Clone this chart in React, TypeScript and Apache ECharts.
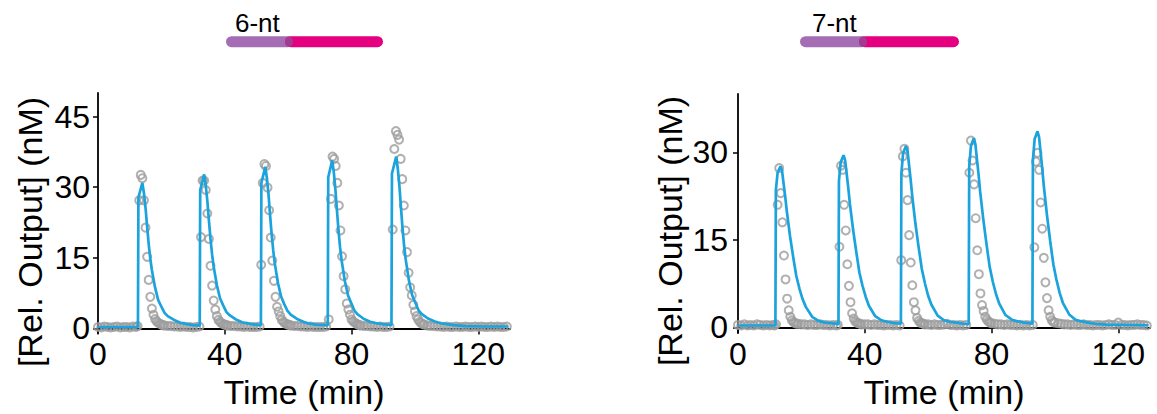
import React, { useEffect, useRef } from "react";
import * as echarts from "echarts";

// ---------- data ----------
const xTicks = [0, 40, 80, 120];
const sixNtYTicks = [0, 15, 30, 45];
const sevenNtYTicks = [0, 15, 30];

// 6-nt measured output (time min, nM)
const sixNtMeasured: [number, number][] = [
  [0,0.3],[1,0.2],[2,0.4],[3,0.3],[4,0.2],[5,0.3],[6,0.4],[7,0.2],[8,0.3],[9,0.3],[10,0.2],[11,0.4],[12,0.3],[12.5,0.5],
  [13,27.2],[13.5,32.6],[14,31.9],[14.5,27.2],[15,21.4],[15.5,15.2],[16,10.3],[16.5,6.7],[17,4.2],[17.5,2.9],[18,2.0],[18.5,1.5],[19,1.2],[19.5,1.0],[20,0.8],[20.5,0.7],[21,0.6],[22,0.5],[23,0.5],[24,0.4],[25,0.4],[26,0.3],[27,0.4],[28,0.3],[29,0.3],[30,0.2],[31,0.3],[32,0.4],
  [32.5,19.4],[33,31.4],[33.5,31.4],[34,29.4],[34.5,24.4],[35,19.0],[35.5,13.3],[36,9.1],[36.5,5.9],[37,4.0],[37.5,2.6],[38,1.8],[38.5,1.4],[39,1.1],[39.5,0.9],[40,0.8],[40.5,0.7],[41,0.6],[42,0.5],[43,0.5],[44,0.4],[45,0.4],[46,0.3],[47,0.4],[48,0.3],[49,0.3],[50,0.3],[51,0.4],
  [51.5,13.5],[52,30.9],[52.5,34.9],[53,34.5],[53.5,29.9],[54,25.1],[54.5,19.3],[55,14.4],[55.5,10.1],[56,6.7],[56.5,4.6],[57,3.6],[57.5,2.6],[58,1.8],[58.5,1.4],[59,1.1],[59.5,0.9],[60,0.8],[60.5,0.7],[61,0.6],[62,0.5],[63,0.5],[64,0.4],[65,0.4],[66,0.3],[67,0.4],[68,0.3],[69,0.3],[70,0.3],[71,0.3],[72,0.4],[72.8,1.9],
  [73.5,27.5],[74,36.5],[74.5,36.0],[75,34.5],[75.5,30.9],[76,26.1],[76.5,20.8],[77,15.3],[77.5,11.1],[78,8.3],[78.5,5.3],[79,4.0],[79.5,2.9],[80,1.9],[80.5,1.5],[81,1.2],[81.5,1.0],[82,0.8],[82.5,0.7],[83,0.6],[84,0.5],[85,0.5],[86,0.4],[87,0.4],[88,0.3],[89,0.4],[90,0.3],[91,0.3],[92,0.4],
  [93,21.0],[93.5,38.1],[94,41.9],[94.5,41.1],[95,40.1],[95.5,36.0],[96,31.7],[96.5,26.1],[97,20.8],[97.5,16.2],[98,11.8],[98.5,8.7],[99,7.0],[99.5,5.0],[100,3.6],[100.5,2.6],[101,1.9],[101.5,1.4],[102,1.1],[102.5,0.9],[103,0.8],[104,0.6],[105,0.5],[106,0.5],[107,0.4],[108,0.4],[109,0.3],[110,0.4],[111,0.3],[112,0.3],[113,0.4],[114,0.3],[115,0.3],[116,0.4],[117,0.3],[118,0.3],[119,0.4],[120,0.3],[121,0.4],[122,0.3],[123,0.3],[124,0.4],[125,0.3],[126,0.4],[127,0.3],[128,0.3],[129,0.4]
];

// 6-nt model output
const sixNtModel: [number, number][] = [
  [0,0.3],[12.6,0.3],
  [12.75,27.8],[14.0,30.9],[14.5,28.7],[15.0,25.6],[15.5,21.6],[16.0,17.9],[16.5,14.8],[17.0,12.4],[18.0,8.7],[19.0,6.0],[20.0,4.6],[21.0,3.3],[22.0,2.6],[24.0,1.8],[26.0,1.2],[28.0,0.9],[30.0,0.7],[32.1,0.6],
  [32.25,29.4],[33.5,32.7],[34.0,30.4],[34.5,27.1],[35.0,22.9],[35.5,19.0],[36.0,15.7],[36.5,13.1],[37.5,9.2],[38.5,6.4],[39.5,4.9],[40.5,3.5],[41.5,2.8],[43.5,1.9],[45.5,1.3],[47.5,1.0],[49.5,0.8],[51.4,0.65],
  [51.55,30.9],[52.8,34.3],[53.3,31.9],[53.8,28.5],[54.3,24.0],[54.8,19.9],[55.3,16.5],[55.8,13.7],[56.8,9.6],[57.8,6.7],[58.8,5.1],[59.8,3.7],[60.8,2.9],[62.8,2.0],[64.8,1.4],[66.8,1.0],[68.8,0.8],[72.5,0.65],
  [72.65,32.1],[73.9,35.7],[74.4,33.2],[74.9,29.6],[75.4,25.0],[75.9,20.7],[76.4,17.1],[76.9,14.3],[77.9,10.0],[78.9,7.0],[79.9,5.4],[80.9,3.8],[81.9,3.0],[83.9,2.0],[85.9,1.4],[87.9,1.1],[89.9,0.9],[92.6,0.7],
  [92.75,32.9],[94.1,36.5],[94.6,33.9],[95.1,30.3],[95.6,25.6],[96.1,21.2],[96.6,17.5],[97.1,14.6],[98.1,10.2],[99.1,7.1],[100.1,5.5],[101.1,3.9],[102.1,3.1],[104.1,2.1],[106.1,1.5],[108.1,1.1],[110.1,0.9],[112.1,0.7],[116,0.5],[122,0.4],[129.5,0.4]
];

// 7-nt measured output
const sevenNtMeasured: [number, number][] = [
  [0,0.4],[1,0.3],[2,0.5],[3,0.3],[4,0.4],[5,0.3],[6,0.5],[7,0.4],[8,0.3],[9,0.4],[10,0.3],[11,0.4],[11.5,0.3],[12,0.5],
  [12.5,21.0],[13,27.3],[13.5,23.0],[14,18.0],[14.5,12.3],[15,8.2],[15.5,4.9],[16,2.9],[16.5,1.8],[17,1.2],[17.5,0.9],[18,0.7],[18.5,0.6],[19,0.6],[20,0.5],[21,0.5],[22,0.4],[23,0.5],[24,0.4],[25,0.4],[26,0.5],[27,0.4],[28,0.4],[29,0.3],[30,0.4],[31,0.3],[31.5,0.4],
  [32,13.8],[32.5,27.7],[33,27.0],[33.5,21.0],[34,16.6],[34.5,10.8],[35,7.1],[35.5,4.3],[36,2.4],[36.5,1.5],[37,1.0],[37.5,0.8],[38,0.7],[38.5,0.6],[39,0.5],[40,0.5],[41,0.5],[42,0.4],[43,0.5],[44,0.4],[45,0.4],[46,0.3],[47,0.4],[48,0.4],[49,0.3],[50,0.4],[51,0.3],
  [51.5,11.5],[52,29.3],[52.5,30.6],[53,26.5],[53.5,21.8],[54,15.8],[54.5,11.1],[55,7.2],[55.5,4.3],[56,2.9],[56.5,1.6],[57,1.1],[57.5,0.8],[58,0.7],[58.5,0.6],[59,0.5],[60,0.5],[61,0.4],[62,0.5],[63,0.4],[64,0.4],[65,0.5],[66,0.6],[67,0.4],[68,0.4],[69,0.3],[70,0.4],[71,0.3],[72,0.4],
  [73,26.5],[73.5,32.0],[74,28.6],[74.5,24.5],[75,18.7],[75.5,13.2],[76,9.1],[76.5,5.8],[77,3.8],[77.5,2.8],[78,1.8],[78.5,1.3],[79,1.0],[79.5,0.8],[80,0.7],[81,0.6],[82,0.5],[83,0.5],[84,0.4],[85,0.5],[86,0.4],[87,0.4],[88,0.3],[89,0.4],[90,0.3],[91,0.4],[92,0.3],[93,0.4],
  [93.5,13.7],[94,28.4],[94.5,29.9],[95,27.0],[95.5,21.4],[96,16.9],[96.5,11.9],[97,7.7],[97.5,5.0],[98,2.9],[98.5,1.8],[99,1.2],[99.5,0.9],[100,0.8],[101,0.7],[102,0.6],[103,0.5],[104,0.5],[105,0.4],[106,0.5],[107,0.4],[108,0.4],[109,0.5],[110,0.4],[111,0.4],[112,0.3],[113,0.4],[114,0.4],[115,0.3],[116,0.4],[117,0.5],[118,0.4],[119,0.4],[120,0.8],[121,0.4],[122,0.4],[123,0.3],[124,0.4],[125,0.4],[126,0.5],[127,0.4],[128,0.4],[129,0.3]
];

// 7-nt model output
const sevenNtModel: [number, number][] = [
  [0,0.3],[11.8,0.3],
  [11.95,23.5],[12.5,26.5],[13.4,27.6],[13.9,26.8],[14.4,24.6],[14.9,22.4],[15.4,19.9],[16.4,15.7],[17.4,12.1],[18.4,8.8],[19.4,6.6],[20.4,4.8],[21.4,3.5],[23.4,1.8],[25.4,1.1],[27.4,0.8],[29.4,0.7],[31.7,0.55],
  [31.85,25.1],[32.4,28.3],[33.3,29.5],[33.8,28.6],[34.3,26.3],[34.8,23.9],[35.3,21.2],[36.3,16.8],[37.3,13.0],[38.3,9.4],[39.3,7.1],[40.3,5.2],[41.3,3.7],[43.3,1.9],[45.3,1.2],[47.3,0.9],[49.3,0.7],[51.4,0.6],
  [51.55,26.4],[52.1,29.9],[53.0,31.1],[53.5,30.2],[54.0,27.7],[54.5,25.2],[55.0,22.4],[56.0,17.7],[57.0,13.7],[58.0,10.0],[59.0,7.5],[60.0,5.4],[61.0,3.9],[63.0,2.0],[65.0,1.2],[67.0,0.9],[69.0,0.8],[71.0,0.6],[72.8,0.55],
  [72.95,27.5],[73.5,31.1],[74.4,32.4],[74.9,31.4],[75.4,28.8],[75.9,26.2],[76.4,23.3],[77.4,18.5],[78.4,14.3],[79.4,10.4],[80.4,7.8],[81.4,5.7],[82.4,4.1],[84.4,2.1],[86.4,1.3],[88.4,1.0],[90.4,0.8],[92.9,0.6],
  [93.05,28.6],[93.6,32.3],[94.5,33.6],[95.0,32.6],[95.5,29.9],[96.0,27.2],[96.5,24.2],[97.5,19.2],[98.5,14.8],[99.5,10.8],[100.5,8.1],[101.5,5.9],[102.5,4.2],[104.5,2.2],[106.5,1.3],[108.5,1.0],[110.5,0.8],[112.5,0.6],[116,0.45],[122,0.4],[129.5,0.35]
];

const panelTitles = ["6-nt", "7-nt"];
const xName = "Time (min)";
const yName = "[Rel. Output] (nM)";

// ---------- styles ----------
const FONT = "'Liberation Sans', Arial, Helvetica, sans-serif";
const BLUE = "#1AA3DD";
const GRAY = "#9C9C9C";
const PURPLE = "#A56EB4";
const PINK = "#E4007F";
const BLEND = "#A53A93";
const INK = "#000";

function xAxisOf(gridIndex: number) {
  return {
    type: "value",
    gridIndex,
    min: 0,
    max: 130,
    name: xName,
    nameLocation: "middle",
    nameGap: 33,
    nameTextStyle: { fontSize: 34, fontFamily: FONT, color: INK },
    axisLine: { show: true, lineStyle: { color: INK, width: 1.8 } },
    axisTick: { show: true, inside: false, length: 6, customValues: xTicks, lineStyle: { color: INK, width: 1.5 } },
    axisLabel: { show: true, customValues: xTicks, fontSize: 32, fontFamily: FONT, color: INK, margin: 5 },
    splitLine: { show: false },
  };
}

function yAxisOf(gridIndex: number, max: number, ticks: number[], margin: number) {
  return {
    type: "value",
    gridIndex,
    min: -1,
    max,
    axisLine: { show: true, lineStyle: { color: INK, width: 1.8 } },
    axisTick: { show: true, inside: false, length: 5, customValues: ticks, lineStyle: { color: INK, width: 1.5 } },
    axisLabel: { show: true, customValues: ticks, fontSize: 32, fontFamily: FONT, color: INK, margin },
    splitLine: { show: false },
  };
}

function scatterOf(i: number, data: [number, number][]) {
  return {
    type: "scatter",
    xAxisIndex: i,
    yAxisIndex: i,
    data,
    symbol: "circle",
    symbolSize: 8,
    itemStyle: { color: "rgba(255,255,255,0)", borderColor: GRAY, borderWidth: 2 },
    z: 2,
    silent: true,
  };
}

function lineOf(i: number, data: [number, number][]) {
  return {
    type: "line",
    xAxisIndex: i,
    yAxisIndex: i,
    data,
    showSymbol: false,
    symbol: "none",
    lineStyle: { color: BLUE, width: 2.7 },
    z: 3,
    silent: true,
  };
}

function barGroup(x0: number, xMid: number, x1: number) {
  const y = 36.2;
  const h = 11;
  return [
    { type: "rect", shape: { x: x0, y, width: xMid + 7 - x0, height: h, r: h / 2 }, style: { fill: PURPLE } },
    { type: "rect", shape: { x: xMid - 1, y, width: x1 - xMid + 1, height: h, r: h / 2 }, style: { fill: PINK } },
    { type: "ellipse", shape: { cx: xMid + 3, cy: y + h / 2, rx: 4, ry: h / 2 - 0.3 }, style: { fill: BLEND } },
  ];
}

export default function App() {
  const ref = useRef<HTMLDivElement>(null);
  useEffect(() => {
    if (!ref.current) return;
    const chart = echarts.init(ref.current, undefined, { renderer: "svg" });
    chart.setOption({
      animation: false,
      backgroundColor: "#ffffff",
      grid: [
        { left: 98, top: 93, width: 412, height: 249 },
        { left: 738, top: 94, width: 412, height: 248 },
      ],
      xAxis: [xAxisOf(0), xAxisOf(1)],
      yAxis: [yAxisOf(0, 50, sixNtYTicks, 8), yAxisOf(1, 40, sevenNtYTicks, 10)],
      series: [
        scatterOf(0, sixNtMeasured),
        lineOf(0, sixNtModel),
        scatterOf(1, sevenNtMeasured),
        lineOf(1, sevenNtModel),
      ],
      graphic: [
        ...barGroup(226, 286, 383),
        ...barGroup(800, 860, 959),
        { type: "text", x: 235, y: 23, style: { text: panelTitles[0], fontSize: 26, fontFamily: FONT, fill: INK, align: "left", verticalAlign: "middle" } },
        { type: "text", x: 812, y: 23, style: { text: panelTitles[1], fontSize: 26, fontFamily: FONT, fill: INK, align: "left", verticalAlign: "middle" } },
        { type: "text", x: 30, y: 232, rotation: Math.PI / 2, style: { text: yName, fontSize: 34, fontFamily: FONT, fill: INK, align: "center", verticalAlign: "middle" } },
        { type: "text", x: 670, y: 231, rotation: Math.PI / 2, style: { text: yName, fontSize: 34, fontFamily: FONT, fill: INK, align: "center", verticalAlign: "middle" } },
      ],
    });
    return () => chart.dispose();
  }, []);
  return (
    <div
      ref={ref}
      style={{ position: "absolute", left: 0, top: 0, width: 1157, height: 414, background: "#fff" }}
    />
  );
}
